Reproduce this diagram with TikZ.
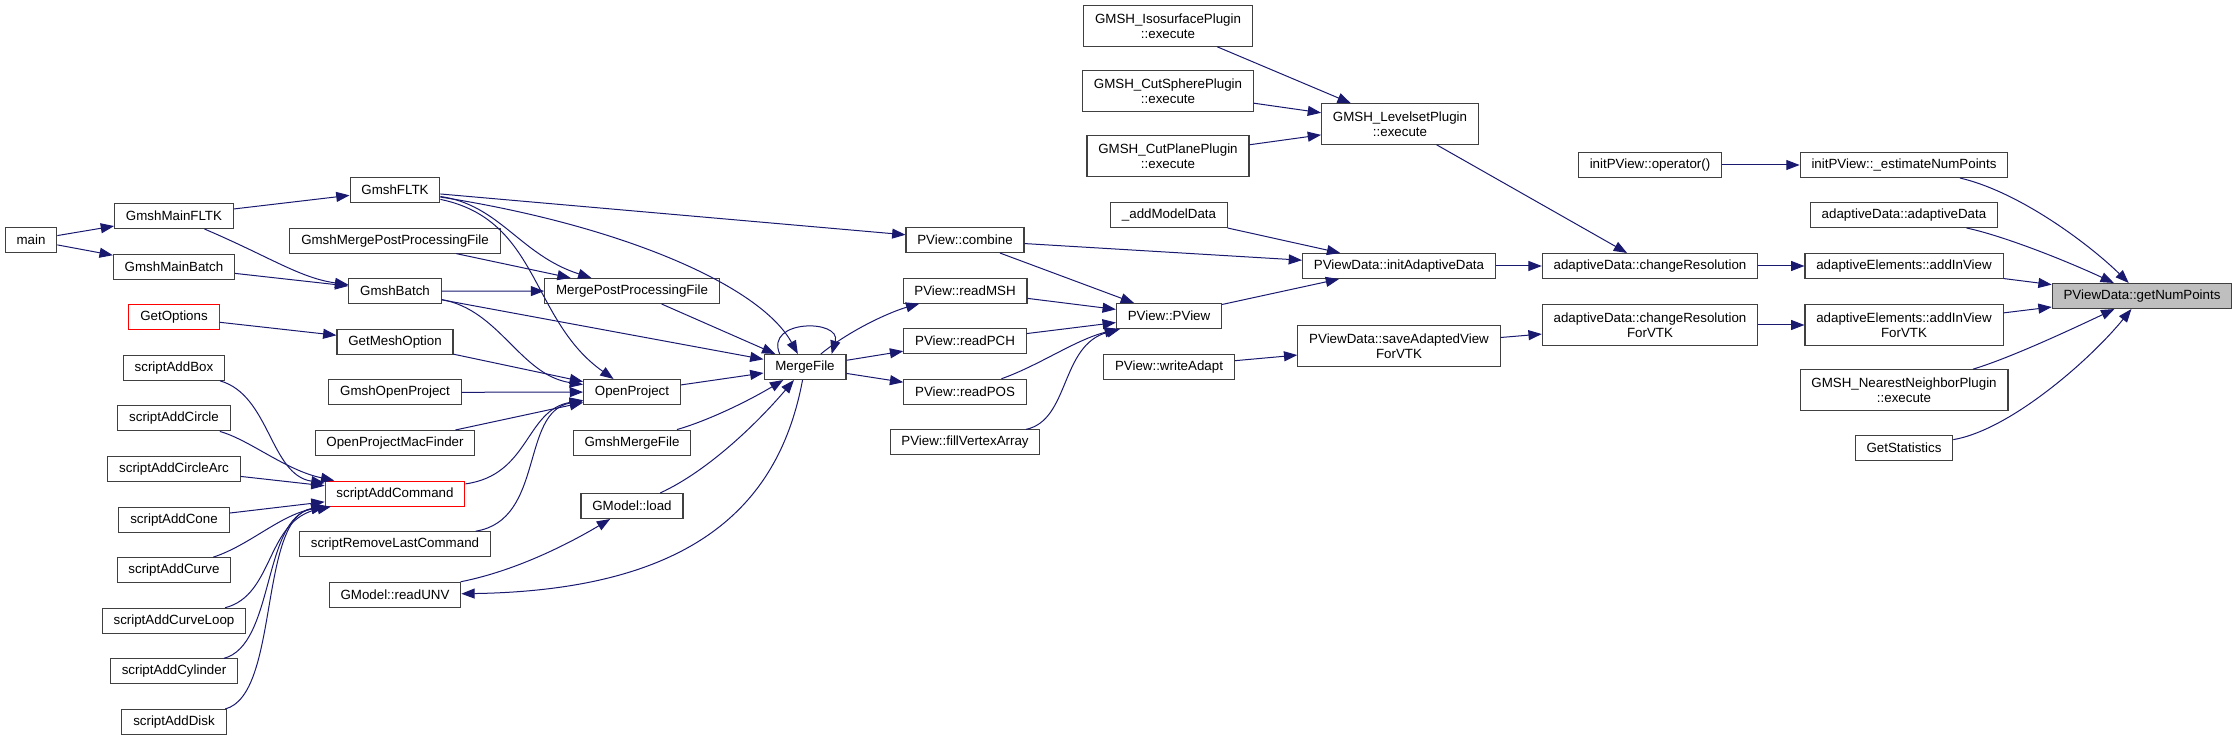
\documentclass[tikz,border=0pt]{standalone}
\usepackage{fontspec}
\setmainfont{Liberation Sans}
\usetikzlibrary{arrows.meta,positioning}
\definecolor{edgeblue}{HTML}{191970}
\definecolor{boxgrey}{HTML}{404040}
\definecolor{hlgrey}{HTML}{BFBFBF}
\begin{document}
\begin{tikzpicture}[x=0.75pt, y=-0.75pt, node distance=37.95pt]
\tikzset{fn/.style={rectangle, draw=boxgrey, line width=0.8pt, minimum height=18.75pt, inner xsep=8.5pt, inner ysep=2pt, align=center, font=\fontsize{10}{11.5}\selectfont, fill=white}}
\tikzset{fntwo/.style={fn, minimum height=30.4pt}}
\tikzset{trunc/.style={fn, draw=red}}
\tikzset{call/.style={-{Triangle[length=10pt, width=7.5pt]}, draw=edgeblue, fill=none, line width=0.75pt}}
\useasboundingbox (0,0) rectangle (2236,741);

\node[fn] (main) at (31,240) {main};
\node[fn] (mainfltk) at (174,216) {GmshMainFLTK};
\node[fn, below of=mainfltk] (mainbatch) {GmshMainBatch};
\node[trunc, below of=mainbatch] (getoptions) {GetOptions};
\node[fn, below of=getoptions] (addbox) {scriptAddBox};
\node[fn, below of=addbox] (addcircle) {scriptAddCircle};
\node[fn, below of=addcircle] (addcirclearc) {scriptAddCircleArc};
\node[fn, below of=addcirclearc] (addcone) {scriptAddCone};
\node[fn, below of=addcone] (addcurve) {scriptAddCurve};
\node[fn, below of=addcurve] (addcurveloop) {scriptAddCurveLoop};
\node[fn, below of=addcurveloop] (addcylinder) {scriptAddCylinder};
\node[fn, below of=addcylinder] (adddisk) {scriptAddDisk};

\node[fn] (gmshfltk) at (395,190) {GmshFLTK};
\node[fn, below of=gmshfltk] (gmshmergepost) {GmshMergePostProcessingFile};
\node[fn, below of=gmshmergepost] (gmshbatch) {GmshBatch};
\node[fn, below of=gmshbatch] (getmeshoption) {GetMeshOption};
\node[fn, below of=getmeshoption] (gmshopenproject) {GmshOpenProject};
\node[fn, below of=gmshopenproject] (openprojectmac) {OpenProjectMacFinder};
\node[trunc, below of=openprojectmac] (addcommand) {scriptAddCommand};
\node[fn, below of=addcommand] (removelast) {scriptRemoveLastCommand};
\node[fn, below of=removelast] (readunv) {GModel::readUNV};

\node[fn] (mergepost) at (632,291) {MergePostProcessingFile};
\node[fn] (openproject) at (632,392) {OpenProject};
\node[fn, below of=openproject] (gmshmergefile) {GmshMergeFile};
\node[fn] (gmodelload) at (632,506) {GModel::load};
\node[fn] (mergefile) at (805,367) {MergeFile};

\node[fn] (combine) at (965,240) {PView::combine};
\node[fn, below of=combine] (readmsh) {PView::readMSH};
\node[fn, below of=readmsh] (readpch) {PView::readPCH};
\node[fn, below of=readpch] (readpos) {PView::readPOS};
\node[fn, below of=readpos] (fillvertex) {PView::fillVertexArray};

\node[fntwo] (isosurface) at (1168,26) {GMSH\_IsosurfacePlugin\\::execute};
\node[fntwo] (cutsphere) at (1168,91) {GMSH\_CutSpherePlugin\\::execute};
\node[fntwo] (cutplane) at (1168,156) {GMSH\_CutPlanePlugin\\::execute};
\node[fn] (addmodeldata) at (1169,215) {\_addModelData};
\node[fn] (pview) at (1169,316) {PView::PView};
\node[fn, below of=pview] (writeadapt) {PView::writeAdapt};

\node[fntwo] (levelset) at (1400,124) {GMSH\_LevelsetPlugin\\::execute};
\node[fn] (initadaptive) at (1399,266) {PViewData::initAdaptiveData};
\node[fntwo] (saveadapted) at (1399,346) {PViewData::saveAdaptedView\\ForVTK};

\node[fn] (operator) at (1650,165) {initPView::operator()};
\node[fn] (changeres) at (1650,266) {adaptiveData::changeResolution};
\node[fntwo] (changeresvtk) at (1650,325) {adaptiveData::changeResolution\\ForVTK};

\node[fn] (estimate) at (1904,165) {initPView::\_estimateNumPoints};
\node[fn] (adaptivedata) at (1904,215) {adaptiveData::adaptiveData};
\node[fn] (addinview) at (1904,266) {adaptiveElements::addInView};
\node[fntwo] (addinviewvtk) at (1904,325) {adaptiveElements::addInView\\ForVTK};
\node[fntwo] (nearest) at (1904,390) {GMSH\_NearestNeighborPlugin\\::execute};
\node[fn] (getstatistics) at (1904,448) {GetStatistics};

\node[fn, fill=hlgrey] (getnumpoints) at (2142,296) {PViewData::getNumPoints};

\draw[call] (main) -- (mainfltk);
\draw[call] (main) -- (mainbatch);
\draw[call] (mainfltk) -- (gmshfltk);
\draw[call] (mainfltk) .. controls (270,257) and (300,278) .. (gmshbatch);
\draw[call] (mainbatch) -- (gmshbatch);
\draw[call] (getoptions) -- (getmeshoption);

\draw[call] (addbox) .. controls (270,395) and (270,475) .. (addcommand);
\draw[call] (addcircle) .. controls (250,440) and (285,470) .. (addcommand);
\draw[call] (addcirclearc) -- (addcommand);
\draw[call] (addcone) -- (addcommand);
\draw[call] (addcurve) .. controls (250,545) and (280,515) .. (addcommand);
\draw[call] (addcurveloop) .. controls (275,595) and (265,520) .. (addcommand);
\draw[call] (addcylinder) .. controls (275,645) and (262,518) .. (addcommand);
\draw[call] (adddisk) .. controls (280,695) and (258,518) .. (addcommand);

\draw[call] (gmshfltk) -- (combine);
\draw[call] (gmshfltk) .. controls (500,205) and (520,255) .. (mergepost);
\draw[call] (gmshfltk) .. controls (540,220) and (530,320) .. (openproject);
\draw[call] (gmshfltk) .. controls (620,225) and (760,285) .. (mergefile);
\draw[call] (gmshmergepost) -- (mergepost);
\draw[call] (gmshbatch) -- (mergepost);
\draw[call] (gmshbatch) -- (mergefile);
\draw[call] (gmshbatch) .. controls (500,310) and (520,375) .. (openproject);
\draw[call] (getmeshoption) -- (openproject);
\draw[call] (gmshopenproject) -- (openproject);
\draw[call] (openprojectmac) -- (openproject);
\draw[call] (addcommand) .. controls (530,475) and (525,410) .. (openproject);
\draw[call] (removelast) .. controls (545,520) and (520,412) .. (openproject);

\draw[call] (mergepost) -- (mergefile);
\draw[call] (openproject) -- (mergefile);
\draw[call] (gmshmergefile) .. controls (710,420) and (750,400) .. (mergefile);
\draw[call] (gmodelload) .. controls (710,470) and (760,420) .. (mergefile);
\draw[call] ([xshift=-19pt]mergefile.north) .. controls +(-15,-35) and +(10,-35) .. ([xshift=20pt]mergefile.north);
\draw[call] (mergefile) .. controls (780,500) and (700,590) .. (readunv);
\draw[call] (readunv) .. controls (520,570) and (575,540) .. (gmodelload);

\draw[call] (mergefile) .. controls (850,330) and (890,312) .. (readmsh);
\draw[call] (mergefile) -- (readpch);
\draw[call] (mergefile) -- (readpos);

\draw[call] (combine) -- (initadaptive);
\draw[call] (combine) -- (pview);
\draw[call] (readmsh) -- (pview);
\draw[call] (readpch) -- (pview);
\draw[call] (readpos) .. controls (1040,365) and (1075,340) .. (pview);
\draw[call] (fillvertex) .. controls (1070,420) and (1060,345) .. (pview);

\draw[call] (isosurface) -- (levelset);
\draw[call] (cutsphere) -- (levelset);
\draw[call] (cutplane) -- (levelset);
\draw[call] (addmodeldata) -- (initadaptive);
\draw[call] (pview) -- (initadaptive);
\draw[call] (writeadapt) -- (saveadapted);

\draw[call] (levelset) -- (changeres);
\draw[call] (initadaptive) -- (changeres);
\draw[call] (saveadapted) -- (changeresvtk);

\draw[call] (operator) -- (estimate);
\draw[call] (changeres) -- (addinview);
\draw[call] (changeresvtk) -- (addinviewvtk);

\draw[call] (estimate) .. controls (2020,192) and (2090,245) .. (getnumpoints);
\draw[call] (adaptivedata) .. controls (2000,235) and (2060,258) .. (getnumpoints);
\draw[call] (addinview) -- (getnumpoints);
\draw[call] (addinviewvtk) -- (getnumpoints);
\draw[call] (nearest) .. controls (2010,358) and (2070,330) .. (getnumpoints);
\draw[call] (getstatistics) .. controls (2010,430) and (2090,360) .. (getnumpoints);
\end{tikzpicture}
\end{document}
